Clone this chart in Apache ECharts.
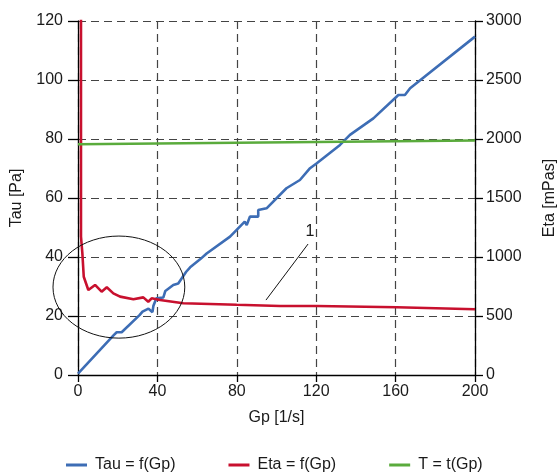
<!DOCTYPE html>
<html>
<head>
<meta charset="utf-8">
<script src="https://cdn.jsdelivr.net/npm/echarts@6/dist/echarts.min.js"></script>
<style>
html,body{margin:0;padding:0;background:#fff;}
#chart{width:559px;height:472px;}
</style>
</head>
<body>
<div id="chart"></div>
<script>
// valeurs
var xTicks = [0, 40, 80, 120, 160, 200];
var tauData = [[0,0.5],[18,13.5],[19.5,14.5],[22,14.5],[31,20.3],[32.5,21.5],[33.5,21],[35.5,22.5],
    [37.5,21.3],[38,23.5],[39.5,26],[43,26.3],[44,28.5],[48,30.5],[50.5,31],[54.5,35],[56.5,36.5],
    [61.5,39.2],[64.8,41.2],[76.6,46.9],[84,52],[85,50.8],[86.6,53.7],[90.8,53.7],[90.8,55.9],[95,56.5],
    [105,63.3],[111.8,66.1],[116.9,70.1],[120.3,71.8],[132,78],[137,81.4],[148.8,87],[161.4,94.9],
    [164.7,94.9],[167.3,97.2],[200,114.7]];
var etaData = [[1.5,3600],[1.5,1172],[2.2,1172],[2.2,1031],[2.9,1031],[2.9,833],[5.2,720],[8.6,763],
    [11.9,706],[14.5,743],[17.8,692],[21.2,664],[27.9,642],[32.9,658],[35.4,621],[37.1,650],[41.3,636],
    [53,608],[80,595],[101.8,585],[120.3,585],[160.6,574],[200,557]];
var tData = [[0,78.2],[200,79.5]];
var seriesNames = ['Tau = f(Gp)', 'Eta = f(Gp)', 'T = t(Gp)'];
// annotation : ellipse et repère "1" (coordonnées Gp / Tau)
var ellipse = {x: 20.6, y: 29.8, rx: 33.2, ry: 17.3};
var leader = [[94.7,25.4],[115.9,44.4]];
var leaderLabel = {x: 116.9, y: 48.5, text: '1'};

var font = 'Liberation Sans, Arial, Helvetica, sans-serif';
var txt = {color: '#1a1a1a', fontSize: 16, fontFamily: font};
var dash = {color: '#444', width: 1.2, type: [8, 5]};

var chart = echarts.init(document.getElementById('chart'));
var option = {
    animation: false,
    grid: {left: 78, right: 84, top: 21, bottom: 97, containLabel: false, outerBoundsMode: 'none'},
    legend: {
        data: seriesNames.map(function(n){ return {name: n, icon: 'rect'}; }),
        top: 452,
        left: 61,
        itemWidth: 21,
        itemHeight: 3,
        itemGap: 53,
        textStyle: {color: '#1a1a1a', fontSize: 16, fontFamily: font, padding: [0,0,0,3]}
    },
    xAxis: {
        type: 'value', min: 0, max: 200, interval: 40,
        name: 'Gp [1/s]', nameLocation: 'middle', nameGap: 35,
        nameTextStyle: txt,
        axisLine: {show: true, lineStyle: {color: '#000', width: 1.3}},
        axisTick: {show: true, length: 7, lineStyle: {color: '#000', width: 1.3}},
        axisLabel: Object.assign({margin: 9}, txt),
        splitLine: {show: true, lineStyle: dash}
    },
    yAxis: [{
        type: 'value', min: 0, max: 120, interval: 20,
        name: 'Tau [Pa]', nameLocation: 'middle', nameGap: 53, nameRotate: 90,
        nameTextStyle: txt,
        axisLine: {show: true, lineStyle: {color: '#000', width: 1.3}},
        axisTick: {show: true, length: 10, lineStyle: {color: '#000', width: 1.3}},
        axisLabel: Object.assign({margin: 15}, txt),
        splitLine: {show: true, lineStyle: dash}
    }, {
        type: 'value', min: 0, max: 3000, interval: 500,
        position: 'right',
        name: 'Eta [mPas]', nameLocation: 'middle', nameGap: 67, nameRotate: 90,
        nameTextStyle: txt,
        axisLine: {show: true, lineStyle: {color: '#000', width: 1.3}},
        axisTick: {show: true, length: 8, lineStyle: {color: '#000', width: 1.3}},
        axisLabel: Object.assign({margin: 11, formatter: function(v){ return String(v); }}, txt),
        splitLine: {show: false}
    }],
    series: [{
        name: seriesNames[0], type: 'line', data: tauData, yAxisIndex: 0,
        symbol: 'none', color: '#3d6db5', lineStyle: {width: 2.6, color: '#3d6db5'}
    }, {
        name: seriesNames[1], type: 'line', data: etaData, yAxisIndex: 1,
        symbol: 'none', color: '#c8102e', lineStyle: {width: 2.6, color: '#c8102e'}
    }, {
        name: seriesNames[2], type: 'line', data: tData, yAxisIndex: 0,
        symbol: 'none', color: '#5aab3c', lineStyle: {width: 2.6, color: '#5aab3c'}
    }]
};
chart.setOption(option);

function px(p){
    return chart.convertToPixel({xAxisIndex: 0, yAxisIndex: 0}, p);
}
var c = px([ellipse.x, ellipse.y]);
var e = px([ellipse.x + ellipse.rx, ellipse.y + ellipse.ry]);
var l0 = px(leader[0]), l1 = px(leader[1]);
var lb = px([leaderLabel.x, leaderLabel.y]);
chart.setOption({
    graphic: [{
        type: 'ellipse', z: 100,
        shape: {cx: c[0], cy: c[1], rx: e[0] - c[0], ry: c[1] - e[1]},
        style: {fill: 'none', stroke: '#111', lineWidth: 1}
    }, {
        type: 'line', z: 100,
        shape: {x1: l0[0], y1: l0[1], x2: l1[0], y2: l1[1]},
        style: {stroke: '#111', lineWidth: 1}
    }, {
        type: 'text', z: 100, x: lb[0], y: lb[1],
        style: {text: leaderLabel.text, fill: '#1a1a1a', font: '16px ' + font, align: 'center', verticalAlign: 'middle'}
    }]
});
</script>
</body>
</html>
